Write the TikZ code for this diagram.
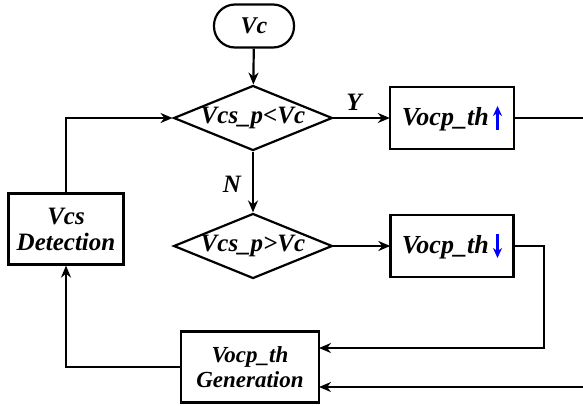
\documentclass[tikz,border=0pt]{standalone}
\usepackage{fontspec}
\setmainfont{Liberation Serif}
\usetikzlibrary{shapes.geometric,arrows.meta}
\newcommand{\uparr}{\,\tikz[baseline=0pt]\draw[blue,line width=2.2pt,-{Stealth[length=10pt,width=9pt]}](0pt,-5pt)--(0pt,19pt);}
\newcommand{\dnarr}{\,\tikz[baseline=0pt]\draw[blue,line width=2.2pt,-{Stealth[length=10pt,width=9pt]}](0pt,19pt)--(0pt,-5pt);}
\begin{document}
\begin{tikzpicture}[x=1pt,y=-1pt,line width=2.2pt,
  vctxt/.style={font=\fontsize{24}{26}\selectfont\bfseries\itshape},
  txt/.style={font=\fontsize{25}{27}\selectfont\bfseries\itshape},
  btxt/.style={font=\fontsize{26}{28}\selectfont\bfseries\itshape},
  dettxt/.style={font=\fontsize{25}{26}\selectfont\bfseries\itshape},
  gentxt/.style={font=\fontsize{23}{25}\selectfont\bfseries\itshape},
  lbl/.style={font=\fontsize{25}{27}\selectfont\bfseries\itshape},
  box/.style={draw,rectangle,inner sep=0pt,align=center},
  dia/.style={draw,diamond,aspect=2.5,inner sep=0pt,minimum width=154pt,minimum height=65pt,txt},
  arr/.style={-{Stealth[length=12pt,width=10pt]}}]
\useasboundingbox (0,0) rectangle (583,405);
\node[box,vctxt,rounded corners=21pt,minimum width=80pt,minimum height=43pt] (vc) at (254,26) {Vc};
\node[dia] (d1) at (253,118) {Vcs\_p<Vc};
\node[dia] (d2) at (253,246) {Vcs\_p>Vc};
\node[box,btxt,minimum width=124pt,minimum height=62pt] (b1) at (452,118) {Vocp\_th\uparr};
\node[box,btxt,minimum width=123pt,minimum height=62pt] (b2) at (452,246) {Vocp\_th\dnarr};
\node[box,gentxt,minimum width=138pt,minimum height=71pt] (gen) at (250,367) {Vocp\_th\\Generation};
\node[box,dettxt,minimum width=115pt,minimum height=71pt] (det) at (66,229) {Vcs\\Detection};
\node[lbl] (ylab) at (354,102) {Y};
\node[lbl] (nlab) at (232,184) {N};
\coordinate (r1) at (583,118);
\coordinate (r2) at (583,387);
\coordinate (c2) at (544,246);
\coordinate (g1) at (319,348);
\coordinate (g2) at (319,387);
\coordinate (dt) at (66,118);
\draw[arr] (vc) -- (d1);
\draw[arr] (d1) -- (b1);
\draw[arr] (d1) -- (d2);
\draw[arr] (d2) -- (b2);
\draw (b1) -- (r1);
\draw[arr] (b2.east) -- (c2) |- (g1);
\draw[arr] (r2) -- (g2);
\draw[arr] (gen.west) -| (det.south);
\draw[arr] (det.north) -- (dt) -- (d1.west);
\end{tikzpicture}
\end{document}
